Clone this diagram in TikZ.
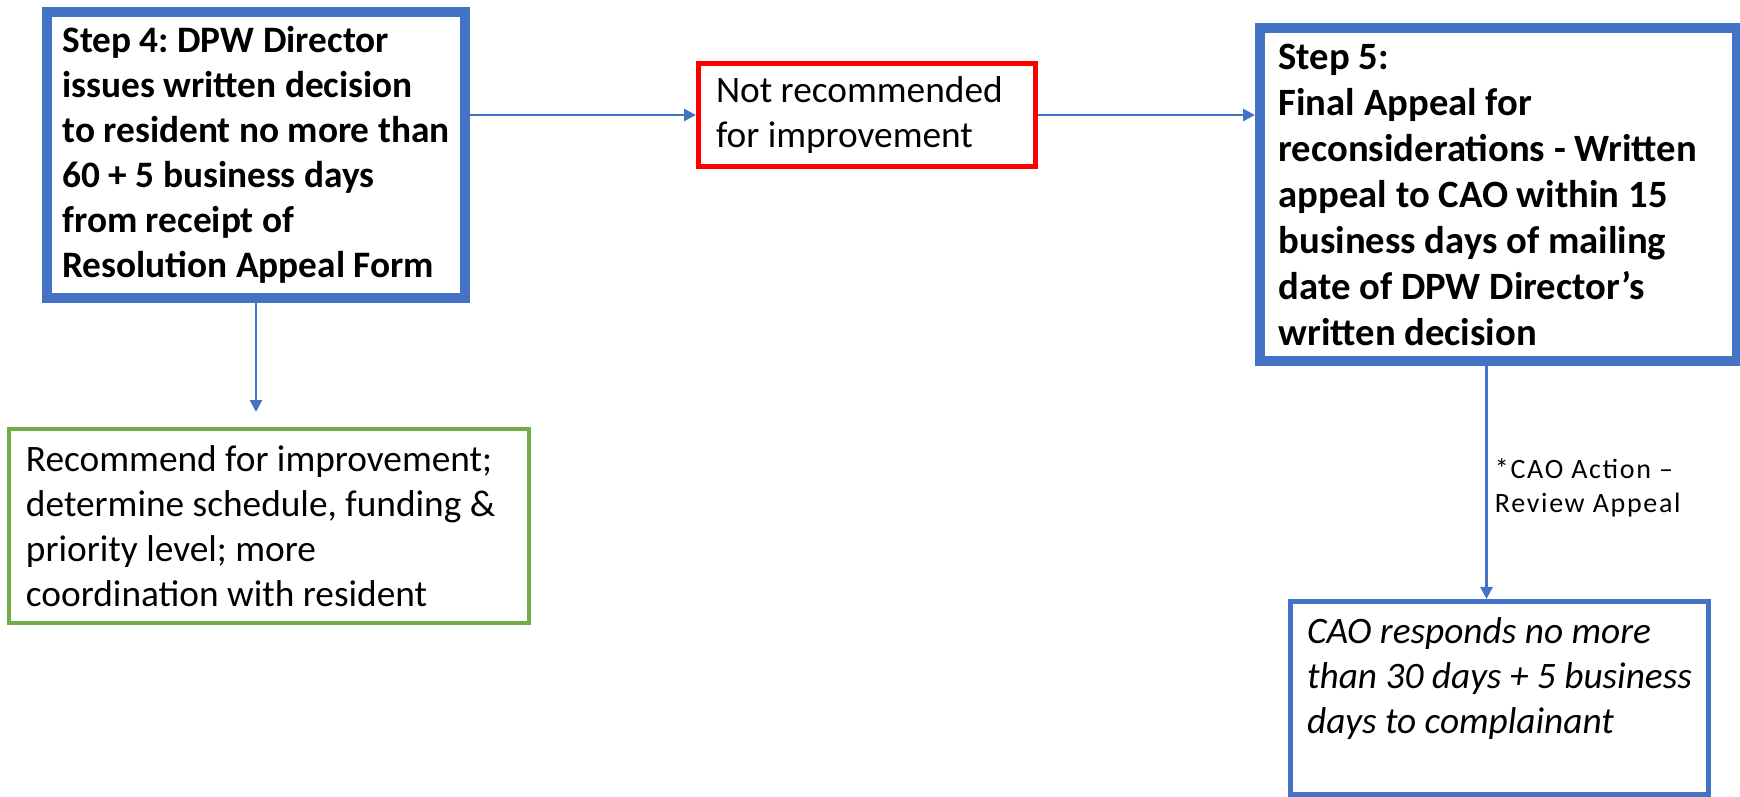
\documentclass[tikz,border=0pt]{standalone}
\usepackage{fontspec}
\setmainfont{Carlito}
\usetikzlibrary{arrows.meta}
\definecolor{stepblue}{HTML}{4472C4}
\definecolor{recgreen}{HTML}{70AD47}
\definecolor{notred}{HTML}{FF0000}
\frenchspacing

\begin{document}
\begin{tikzpicture}[x=0.75pt, y=-0.75pt,
  box/.style={draw, align=flush left, inner sep=0pt, font=\fontsize{28}{33.75}\selectfont},
  stepbox/.style={box, draw=stepblue, line width=7.5pt, font=\fontsize{28}{33.75}\selectfont\bfseries},
  arr/.style={draw=stepblue, line width=2pt, -{Triangle[length=9pt,width=9pt]}}]
\useasboundingbox (0,0) rectangle (1740,796);
% left column
\node[stepbox, minimum width=313.5pt, minimum height=214.5pt] (step4) at (256,155) {Step 4: DPW Director\\issues written decision\\to resident no more than\\60 + 5 business days\\from receipt of\\Resolution Appeal Form};
\node[box, draw=recgreen, line width=3pt, minimum width=390pt, minimum height=145.5pt, text width=364.5pt] (recimp) at (269,526) {Recommend for improvement;\\determine schedule, funding \&\\priority level; more\\coordination with resident};
\coordinate (rectip) at (256,412);
% middle and right column
\node[box, draw=notred, line width=3.75pt, minimum width=252.75pt, minimum height=77.25pt, text width=226.5pt] (notrec) at (867,115) {Not recommended\\for improvement};
\node[stepbox, minimum width=357.75pt, minimum height=249.75pt, text width=329.75pt, font=\fontsize{29}{34.5}\selectfont\bfseries] (step5) at (1498.5,194.5) {Step 5:\\Final Appeal for\\reconsiderations - Written\\appeal to CAO within 15\\business days of mailing\\date of DPW Director’s\\written decision};
\node[box, draw=stepblue, line width=3.75pt, minimum width=313.5pt, minimum height=144.4pt, font=\fontsize{28}{33.75}\selectfont\itshape] (cao) at (1499.5,697.75) {CAO responds no more\\than 30 days + 5 business\\days to complainant\\\mbox{}};
% connectors
\draw[arr] (step4) -- (rectip);
\draw[arr] (step4.east |- notrec) -- (notrec);
\draw[arr] (notrec) -- (notrec -| step5.west);
\draw[arr] ([xshift=-9pt]step5.south) -- ([xshift=-9pt]step5.south |- cao.north) node[midway, right=2pt, yshift=-4pt, align=flush left, font=\fontsize{21}{26}\selectfont\addfontfeature{LetterSpace=6}] (caolabel) {*CAO Action –\\Review Appeal};
\end{tikzpicture}
\end{document}
